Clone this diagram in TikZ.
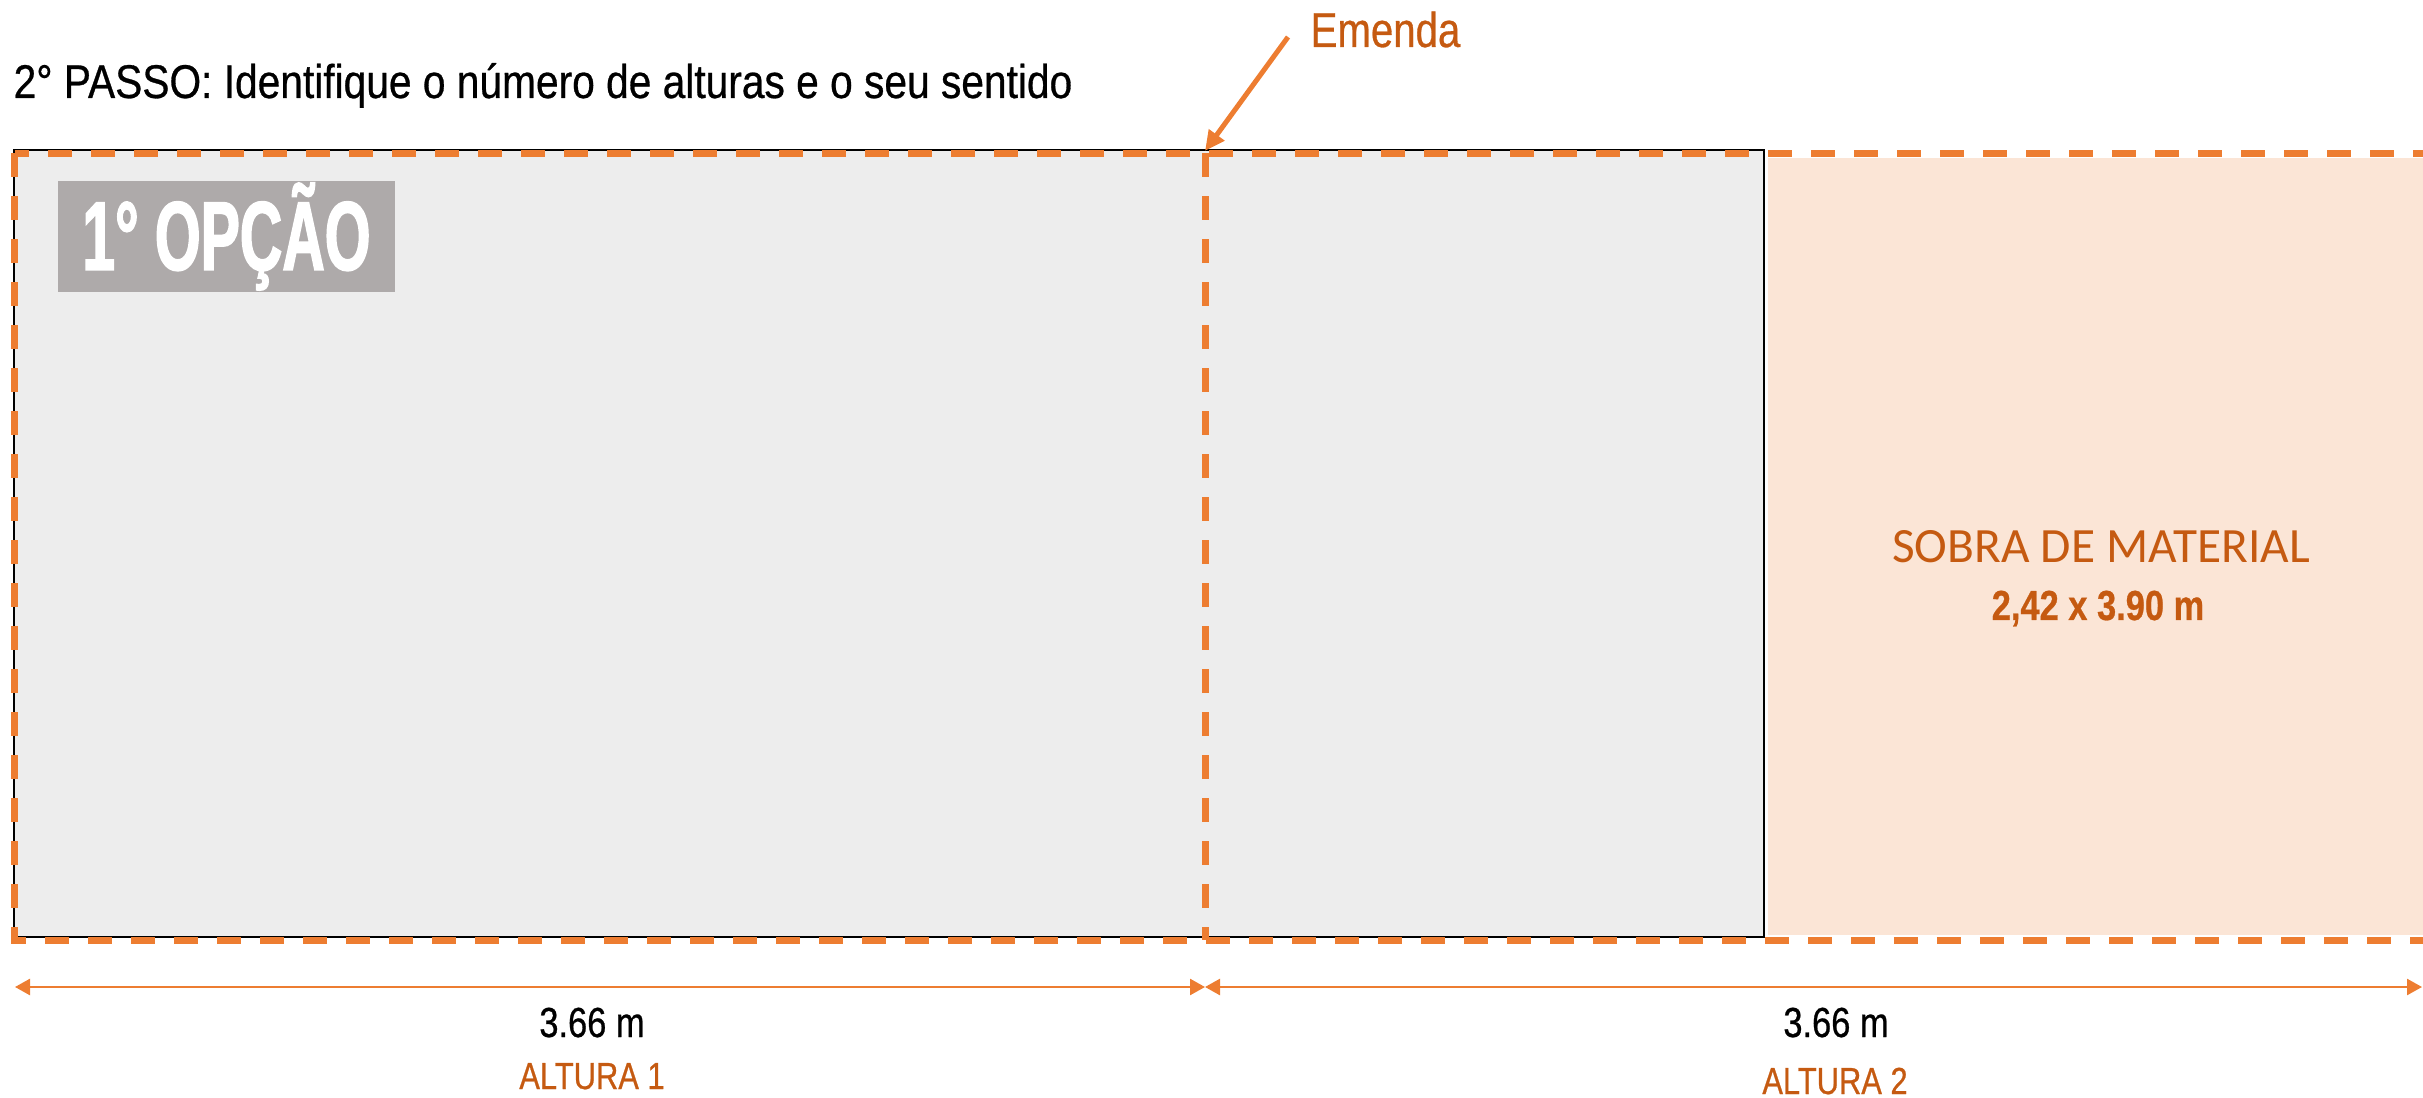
\documentclass[tikz,border=0pt]{standalone}
\usepackage{fontspec}
\setmainfont{Liberation Sans}[FakeStretch=0.82,FakeBold=0.6]
\newfontfamily\titlefont{Liberation Sans}[FakeStretch=0.86,FakeBold=0.6]
\newfontfamily\optfont{Liberation Sans Bold}[FakeStretch=0.6,FakeBold=1.5]
\newfontfamily\calib{Carlito}
\usetikzlibrary{positioning,arrows.meta}
\definecolor{laranja}{HTML}{ED7D31}
\definecolor{laranjaesc}{HTML}{C55A11}
\definecolor{cinzaclaro}{HTML}{EDEDED}
\definecolor{cinzacaixa}{HTML}{AEAAAA}
\definecolor{pessego}{HTML}{FBE5D6}

\begin{document}
\begin{tikzpicture}[x=0.3pt,y=-0.3pt,
    tracejado/.style={draw=laranja,line width=2.1pt,dash pattern=on 7.2pt off 5.7pt},
    cota/.style={draw=laranja,line width=0.75pt,
      {Triangle[length=4.5pt,width=4.8pt]}-{Triangle[length=4.5pt,width=4.8pt]}},
    rotulo/.style={inner sep=0pt,anchor=base},
    medida/.style={rotulo,font=\fontsize{12.6}{14}\selectfont},
    altura/.style={rotulo,text=laranjaesc,font=\fontsize{11.3}{13}\selectfont}]

    \clip (0,0) rectangle (2423,1098);

    % areas
    \fill[pessego] (1768,158) rectangle (2423,935);
    \draw[fill=cinzaclaro,line width=0.6pt] (14,150) rectangle (1764,937);
    \draw[tracejado] (14.5,153.5) rectangle (2460,940);
    \draw[tracejado] (1205,153.5) -- (1205,940);

    \node[fill=cinzacaixa,text=white,inner sep=0pt,minimum width=101.1pt,
      minimum height=33.3pt,font=\optfont\fontsize{29.4}{30}\selectfont]
      (opcao) at (226.5,236.5) {1° OPÇÃO};

    \node[rotulo,anchor=base west,font=\titlefont\fontsize{14.2}{16}\selectfont]
      (titulo) at (13,98) {2° PASSO: Identifique o número de alturas e o seu sentido};

    \node[rotulo,anchor=base west,text=laranjaesc,font=\fontsize{14.7}{16}\selectfont]
      (emenda) at (1310,47) {Emenda};
    \coordinate (emendacauda) at (1288,37);
    \coordinate (emendatopo) at (1205,151);
    \draw[laranja,line width=1.5pt,-{Triangle[length=6pt,width=5.5pt]}] (emendacauda) -- (emendatopo);

    \node[rotulo,text=laranjaesc,font=\calib\fontsize{14.8}{17}\selectfont]
      (sobra) at (2101,563) {SOBRA DE MATERIAL};
    \node[rotulo,text=laranjaesc,font=\bfseries\fontsize{12.6}{14}\selectfont]
      (sobramed) at (2098,620) {2,42 x 3.90 m};

    % cotas
    \coordinate (c0) at (15,987);
    \coordinate (c1) at (1205,987);
    \coordinate (c2) at (2422,987);
    \draw[cota] (c0) -- (c1);
    \draw[cota] (c1) -- (c2);

    \node[medida] (m1) at (592,1037) {3.66 m};
    \node[medida] (m2) at (1836,1037) {3.66 m};
    \node[altura] (a1) at (592,1089) {ALTURA 1};
    \node[altura] (a2) at (1835,1094) {ALTURA 2};
\end{tikzpicture}
\end{document}
